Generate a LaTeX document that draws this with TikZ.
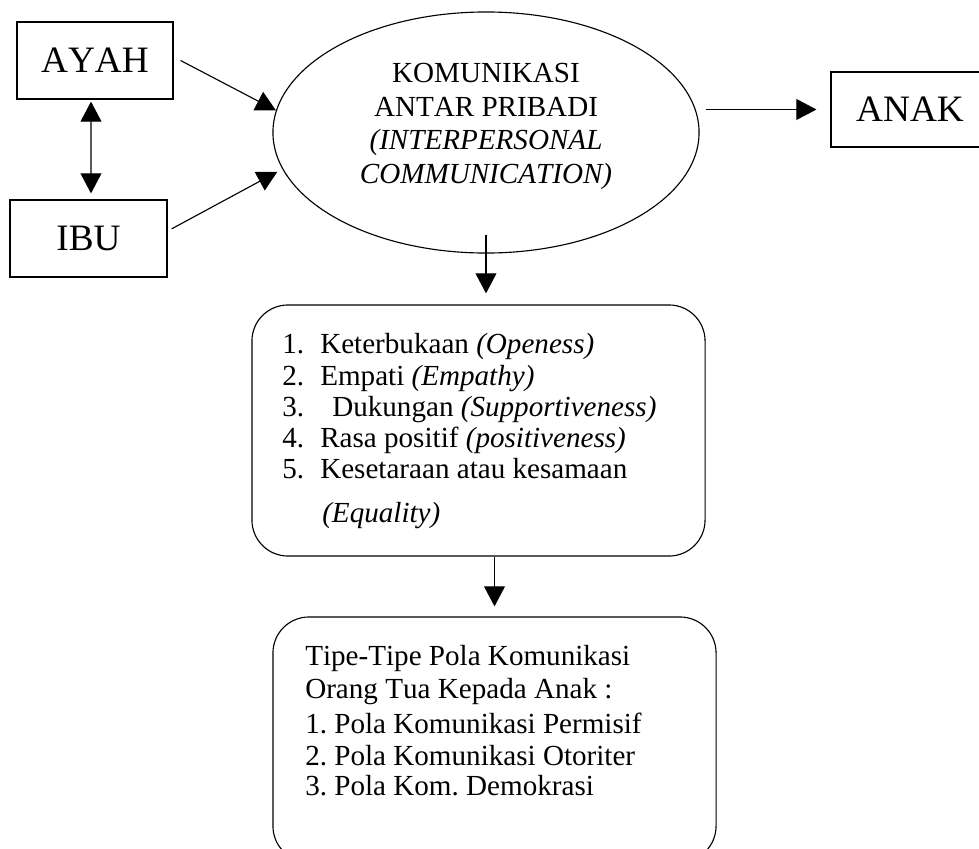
\documentclass[tikz,border=0pt]{standalone}
\usepackage{fontspec}
\setmainfont{Liberation Serif}[Kerning=Off]
\usetikzlibrary{arrows.meta,shapes.geometric}
\tikzset{kotak/.append style={draw, thick, inner sep=0pt, font=\fontsize{26.5}{30}\selectfont}}
\tikzset{bulat/.append style={draw, thick, ellipse, inner sep=0pt}}
\tikzset{judul/.append style={inner sep=0pt, align=center, font=\fontsize{20.7}{24}\selectfont}}
\tikzset{tumpul/.append style={draw, thick, rounded corners=0.9cm, inner sep=0pt}}
\tikzset{baris/.append style={anchor=base west, inner sep=0pt, font=\fontsize{20.7}{24}\selectfont\frenchspacing}}
\tikzset{panah/.append style={thick, -{Triangle[length=0.5cm, width=0.52cm]}}}
\tikzset{panahdua/.append style={thick, {Triangle[length=0.5cm, width=0.52cm]}-{Triangle[length=0.5cm, width=0.52cm]}}}

\begin{document}
\begin{tikzpicture}[x=0.025cm, y=-0.025cm]
                \useasboundingbox (0,0) rectangle (979,848);
                \clip (0,0) rectangle (979,848);
                % orang tua dan anak
                \node[kotak, minimum width=3.9cm, minimum height=1.925cm] (ayah) at (95,60.5) {AYAH};
                \node[kotak, minimum width=3.925cm, minimum height=1.925cm] (ibu) at (88.5,238.5) {IBU};
                \node[kotak, minimum width=3.95cm, minimum height=1.875cm] (anak) at (910,109.5) {ANAK};
                \node[bulat, minimum width=10.65cm, minimum height=6.025cm] (kom) at (486,132.5) {};
                \node[judul] (komteks) at (486,126.5) {KOMUNIKASI\\ANTAR PRIBADI\\\textit{(INTERPERSONAL}\\\textit{COMMUNICATION)}};
                % aspek komunikasi
                \node[tumpul, minimum width=11.325cm, minimum height=6.275cm] (aspek) at (478.5,430.5) {};
                \node[baris] (a1) at (282,353) {\makebox[0.95cm][l]{1.}Keterbukaan \textit{(Openess)}};
                \node[baris] (a2) at (282,385) {\makebox[0.95cm][l]{2.}Empati \textit{(Empathy)}};
                \node[baris] (a3) at (282,416) {\makebox[0.95cm][l]{3.}\hspace{0.3cm}Dukungan \textit{(Supportiveness)}};
                \node[baris] (a4) at (282,447) {\makebox[0.95cm][l]{4.}Rasa positif \textit{(positiveness)}};
                \node[baris] (a5) at (282,478) {\makebox[0.95cm][l]{5.}Kesetaraan atau kesamaan};
                \node[baris] (a6) at (322,522) {\textit{(Equality)}};
                % tipe pola komunikasi
                \node[tumpul, minimum width=11.075cm, minimum height=6.125cm] (tipe) at (494.5,739.5) {};
                \node[baris] (t1) at (305,665) {Tipe-Tipe Pola Komunikasi};
                \node[baris] (t2) at (305,698) {Orang Tua Kepada Anak :};
                \node[baris] (t3) at (305,733) {1. Pola Komunikasi Permisif};
                \node[baris] (t4) at (305,765) {2. Pola Komunikasi Otoriter};
                \node[baris] (t5) at (305,795) {3. Pola Kom. Demokrasi};
                % panah
                \draw[panahdua] ([xshift=-0.1cm, yshift=-0.05cm]ayah.south) -- ([xshift=0.0625cm, yshift=0.15cm]ibu.north);
                \draw[panah] ([xshift=0.175cm]ayah.east) -- (kom.174);
                \draw[panah] ([xshift=0.1cm, yshift=0.24cm]ibu.east) -- ([xshift=-0.165cm]kom.191);
                \draw[panah] ([xshift=0.15cm]kom.east |- anak.west) -- ([xshift=-0.35cm]anak.west);
                \draw[panah] ([yshift=0.475cm]kom.south) -- ([yshift=0.275cm]kom.south |- aspek.north);
                \draw[panah] (aspek.south -| tipe.north) -- ([yshift=0.25cm]tipe.north);
            \end{tikzpicture}
\end{document}
